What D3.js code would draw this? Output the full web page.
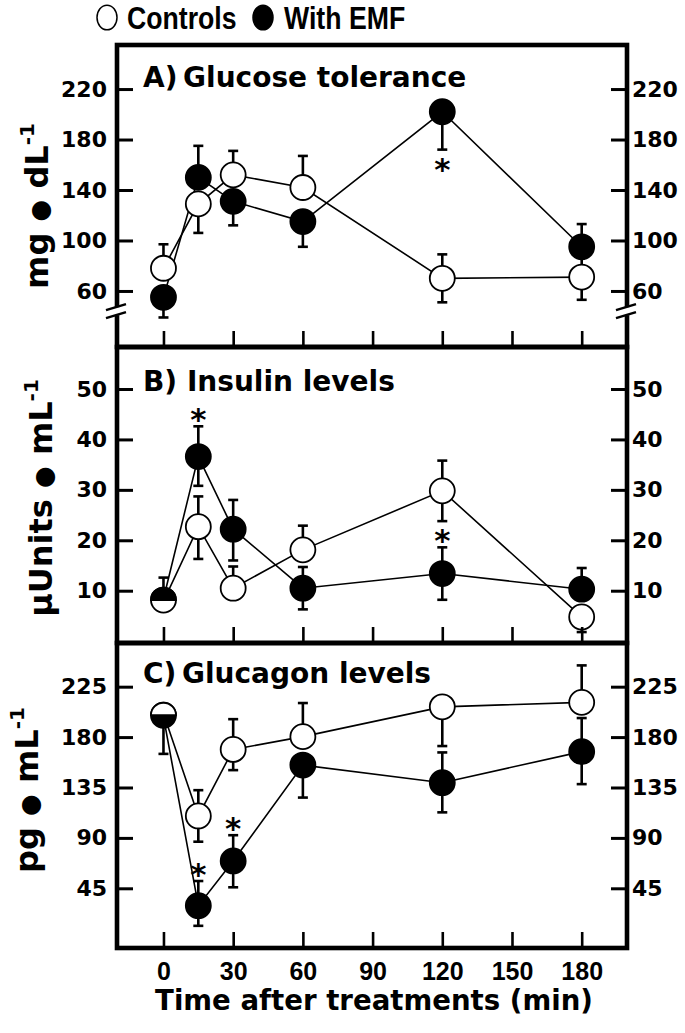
<!DOCTYPE html>
<html><head><meta charset="utf-8">
<script src="https://cdn.jsdelivr.net/npm/d3@7"></script>
<style>body{margin:0;background:#fff}</style></head>
<body><svg id="c" width="685" height="1033"></svg>
<script>
// ---------- data ----------
const times = [0, 15, 30, 60, 120, 180];
const xTicks = [0, 30, 60, 90, 120, 150, 180];
const seriesNames = ["Controls", "With EMF"];
const panelTitles = ["A)\u2009Glucose tolerance", "B) Insulin levels", "C)\u2009Glucagon levels"];
const yTicksA = [60, 100, 140, 180, 220];
const yTicksB = [10, 20, 30, 40, 50];
const yTicksC = [45, 90, 135, 180, 225];

// A) Glucose (mg/dL)
const ctrlA     = [78, 129, 152, 142, 70, 71];
const ctrlAUp   = [19, 0, 19, 25, 19, 18];
const ctrlADown = [0, 23, 0, 0, 19, 18];
const emfA      = [55, 150, 131, 115, 202, 95];
const emfAUp    = [0, 25, 0, 0, 0, 18];
const emfADown  = [16, 0, 19, 20, 30, 0];
const starsA    = [{t: 120, dir: -1}];

// B) Insulin (µUnits/mL)
const ctrlB     = [7.9, 22.7, 10.5, 18.1, 29.8, 4.8];
const ctrlBUp   = [0, 6, 4.3, 4.8, 6, 0];
const ctrlBDown = [0, 6.4, 0, 0, 6, 3];
const emfB      = [8.4, 36.6, 22.2, 10.5, 13.4, 10.3];
const emfBUp    = [4.2, 6, 5.8, 4.2, 5.2, 4.2];
const emfBDown  = [0, 5.8, 6.2, 4.2, 5.2, 0];
const starsB    = [{t: 15, dir: 1}, {t: 120, dir: 1}];

// C) Glucagon (pg/mL)
const ctrlC     = [201, 109.6, 169, 180.4, 207, 211];
const ctrlCUp   = [0, 23, 27, 30, 0, 33];
const ctrlCDown = [0, 23, 18.5, 0, 35, 0];
const emfC      = [198, 29.5, 69.4, 155, 139.3, 167];
const emfCUp    = [0, 22, 23, 0, 27, 30];
const emfCDown  = [33, 18, 23.5, 29, 26.5, 29];
const starsC    = [{t: 15, dir: 1}, {t: 30, dir: 1}];

// ---------- layout ----------
const svg = d3.select("#c");
const L = 117, R = 627;
const x = d3.scaleLinear().domain([-20, 199.5]).range([L, R]);
const r = 12.5;

const panels = [
  {title: panelTitles[0], top: 45, bottom: 347, domain: [15.6, 254.9], ticks: yTicksA,
   ctrl: ctrlA, ctrlUp: ctrlAUp, ctrlDown: ctrlADown, emf: emfA, emfUp: emfAUp, emfDown: emfADown,
   stars: starsA, unit: ["mg", " dL"], labelX: 48, labelY: 206, brk: 44, titleY: 87},
  {title: panelTitles[1], top: 347, bottom: 643, domain: [-0.37, 58.33], ticks: yTicksB,
   ctrl: ctrlB, ctrlUp: ctrlBUp, ctrlDown: ctrlBDown, emf: emfB, emfUp: emfBUp, emfDown: emfBDown,
   stars: starsB, unit: ["\u00B5Units", " mL"], labelX: 52, labelY: 498, titleY: 391},
  {title: panelTitles[2], top: 643, bottom: 948, domain: [-8.3, 264], ticks: yTicksC,
   ctrl: ctrlC, ctrlUp: ctrlCUp, ctrlDown: ctrlCDown, emf: emfC, emfUp: emfCUp, emfDown: emfCDown,
   stars: starsC, unit: ["pg", " mL"], labelX: 38, labelY: 790, titleY: 683, last: true}
];

const titleFont = "'DejaVu Sans', sans-serif";

panels.forEach(p => {
  const y = d3.scaleLinear().domain(p.domain).range([p.bottom, p.top]);
  const g = svg.append("g");
  const series = [
    {v: p.ctrl, up: p.ctrlUp, dn: p.ctrlDown, fill: "#fff"},
    {v: p.emf, up: p.emfUp, dn: p.emfDown, fill: "#000"}
  ];
  // connecting lines
  series.forEach(s => {
    g.append("path")
      .attr("d", d3.line()(times.map((t, i) => [x(t), y(s.v[i])])))
      .attr("fill", "none").attr("stroke", "#000").attr("stroke-width", 1.6);
  });
  // error bars
  series.forEach(s => {
    times.forEach((t, i) => {
      [[s.up[i], 1], [s.dn[i], -1]].forEach(([e, d]) => {
        if (!e) return;
        const y0 = y(s.v[i]), y1 = y(s.v[i] + d * e);
        g.append("line").attr("x1", x(t)).attr("x2", x(t)).attr("y1", y0).attr("y2", y1)
          .attr("stroke", "#000").attr("stroke-width", 2.6);
        g.append("line").attr("x1", x(t) - 5).attr("x2", x(t) + 5).attr("y1", y1).attr("y2", y1)
          .attr("stroke", "#000").attr("stroke-width", 2.6);
      });
    });
  });
  // markers
  times.forEach((t, i) => {
    const yc = y(p.ctrl[i]), ye = y(p.emf[i]);
    if (Math.abs(yc - ye) < r * 0.6) {
      // overlapping points: half/half marker, upper half = higher-valued series
      const ym = (yc + ye) / 2;
      const hi = p.ctrl[i] > p.emf[i] ? series[0] : series[1];
      const lo = hi === series[0] ? series[1] : series[0];
      g.append("circle").attr("cx", x(t)).attr("cy", ym).attr("r", r)
        .attr("fill", lo.fill).attr("stroke", "#000").attr("stroke-width", 1.8);
      g.append("path")
        .attr("d", `M${x(t) - r},${ym} A${r},${r} 0 0 1 ${x(t) + r},${ym} Z`)
        .attr("fill", hi.fill).attr("stroke", "#000").attr("stroke-width", 1.8);
    } else {
      g.append("circle").attr("cx", x(t)).attr("cy", yc).attr("r", r)
        .attr("fill", "#fff").attr("stroke", "#000").attr("stroke-width", 1.8);
      g.append("circle").attr("cx", x(t)).attr("cy", ye).attr("r", r)
        .attr("fill", "#000").attr("stroke", "#000").attr("stroke-width", 1.8);
    }
  });
  // significance stars (EMF series)
  p.stars.forEach(st => {
    const i = times.indexOf(st.t);
    const e = st.dir > 0 ? p.emfUp[i] : p.emfDown[i];
    const yy = y(p.emf[i] + st.dir * e) - st.dir * 13;
    g.append("text").attr("x", x(st.t)).attr("y", yy + 17)
      .attr("text-anchor", "middle").attr("font-family", titleFont)
      .attr("font-weight", "bold").attr("font-size", 31).text("*");
  });

  // y axes, ticks inside
  const axL = d3.axisLeft(y).tickValues(p.ticks).tickSizeInner(-16).tickSizeOuter(0).tickPadding(10);
  const axR = d3.axisRight(y).tickValues(p.ticks).tickSizeInner(-16).tickSizeOuter(0).tickPadding(5);
  [[axL, L], [axR, R]].forEach(([ax, xx]) => {
    const a = g.append("g").attr("transform", `translate(${xx},0)`).call(ax);
    a.select(".domain").remove();
    a.selectAll(".tick line").attr("stroke", "#000").attr("stroke-width", 3);
    a.selectAll(".tick text").attr("font-family", titleFont).attr("font-weight", "bold")
      .attr("font-size", 22).attr("fill", "#000");
  });
  // x axis, ticks inside pointing up
  const axB = d3.axisBottom(x).tickValues(xTicks).tickSizeInner(-16).tickSizeOuter(0).tickPadding(14);
  if (!p.last) axB.tickFormat("");
  const b = g.append("g").attr("transform", `translate(0,${p.bottom})`).call(axB);
  b.select(".domain").remove();
  b.selectAll(".tick line").attr("stroke", "#000").attr("stroke-width", 2.6);
  b.selectAll(".tick text").attr("font-family", "'Liberation Sans', Arial, sans-serif")
    .attr("font-weight", "bold").attr("font-size", 25).attr("fill", "#000");

  // frame
  g.append("rect").attr("x", L).attr("y", p.top).attr("width", R - L).attr("height", p.bottom - p.top)
    .attr("fill", "none").attr("stroke", "#000").attr("stroke-width", 4.6);

  // axis break marks
  if (p.brk !== undefined) {
    const yb = y(p.brk);
    [L, R].forEach(xx => {
      g.append("rect").attr("x", xx - 4).attr("y", yb - 4).attr("width", 8).attr("height", 8).attr("fill", "#fff");
      [-4, 4].forEach(o => {
        g.append("line").attr("x1", xx - 11).attr("x2", xx + 9)
          .attr("y1", yb + o + 3).attr("y2", yb + o - 3)
          .attr("stroke", "#000").attr("stroke-width", 2.4);
      });
    });
  }

  // panel title
  g.append("text").attr("x", 143).attr("y", p.titleY)
    .attr("font-family", titleFont).attr("font-weight", "bold").attr("font-size", 28).text(p.title);

  // y unit label
  const lab = g.append("text").attr("transform", `translate(${p.labelX},${p.labelY}) rotate(-90)`)
    .attr("text-anchor", "middle").attr("font-family", titleFont).attr("font-weight", "bold").attr("font-size", 32);
  lab.append("tspan").text(p.unit[0] + " ");
  lab.append("tspan").attr("font-size", 25).text("\u25CF");
  lab.append("tspan").text(p.unit[1]);
  lab.append("tspan").attr("font-size", 20).attr("dy", -14).text("-1");
});

// x axis title
svg.append("text").attr("x", (L + R) / 2 + 2).attr("y", 1010).attr("text-anchor", "middle")
  .attr("font-family", titleFont).attr("font-weight", "bold").attr("font-size", 27.6)
  .text("Time after treatments (min)");

// legend
const legFont = "'Liberation Sans', Arial, sans-serif";
const legend = [{name: seriesNames[0], fill: "#fff", cx: 107, tx: 127},
                {name: seriesNames[1], fill: "#000", cx: 263, tx: 284}];
legend.forEach(l => {
  svg.append("ellipse").attr("cx", l.cx).attr("cy", 17.5).attr("rx", 10).attr("ry", 12.3)
    .attr("fill", l.fill).attr("stroke", "#000").attr("stroke-width", 1.5);
  svg.append("text").attr("transform", `translate(${l.tx},28.5) scale(0.86,1)`)
    .attr("font-family", legFont).attr("font-weight", "bold").attr("font-size", 31).text(l.name);
});
</script></body></html>
